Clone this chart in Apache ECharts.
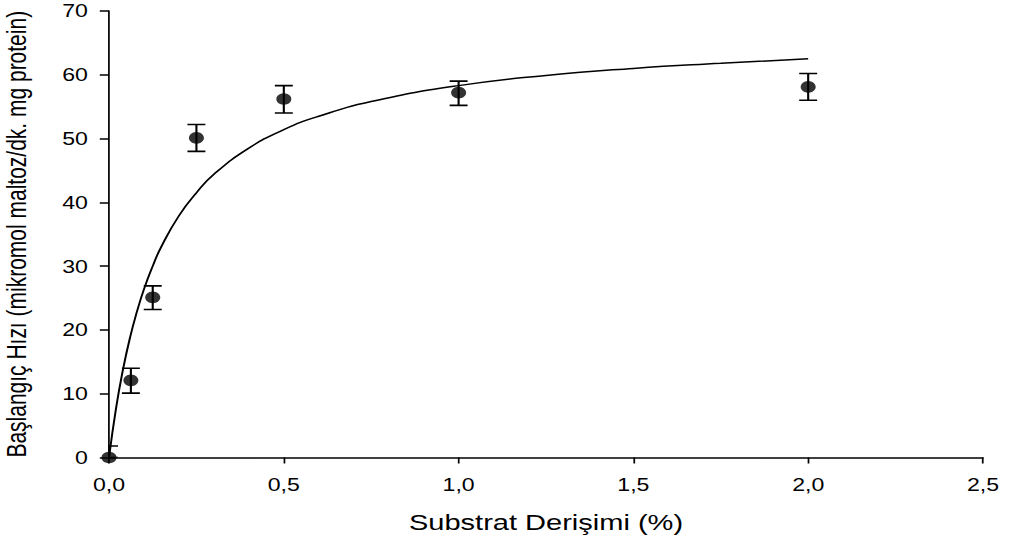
<!DOCTYPE html>
<html>
<head>
<meta charset="utf-8">
<script src="https://cdn.jsdelivr.net/npm/echarts@6/dist/echarts.min.js"></script>
<style>
html,body{margin:0;padding:0;background:#fff;overflow:hidden;width:1012px;height:543px}
#c{width:766.67px;height:543px;transform:scaleX(1.32);transform-origin:0 0}
</style>
</head>
<body>
<div id="c"></div>
<script>
// Measured points (substrate %, initial rate) with error bar ends
const xVals = [0, 0.0625, 0.125, 0.25, 0.5, 1.0, 2.0];
const yVals = [0, 12.1, 25.1, 50.1, 56.2, 57.2, 58.1];
const errLow = [0, 10.1, 23.2, 48.0, 54.0, 55.2, 56.0];
const errHigh = [1.8, 14.0, 26.9, 52.2, 58.3, 59.0, 60.2];
// Fitted curve
const curveX = [0, 0.02, 0.04, 0.06, 0.08, 0.1, 0.125, 0.15, 0.2, 0.25, 0.3, 0.4, 0.5, 0.6, 0.75, 1.0, 1.25, 1.5, 1.75, 2.0];
const curveY = [0, 7.7, 13.8, 18.8, 22.9, 26.4, 30.0, 33.1, 37.9, 41.5, 44.4, 48.5, 51.4, 53.5, 55.8, 58.3, 59.9, 61.0, 61.8, 62.5];
const xTicks = ['0,0', '0,5', '1,0', '1,5', '2,0', '2,5'];

const FONT = 'Arial, "Liberation Sans", sans-serif';
const chart = echarts.init(document.getElementById('c'), null, { renderer: 'svg', width: 766.67, height: 543 });
const pts = xVals.map((x, i) => [x, yVals[i]]);
const errs = xVals.map((x, i) => [x, errLow[i], errHigh[i]]);
const curve = curveX.map((x, i) => [x, curveY[i]]);

chart.setOption({
  animation: false,
  backgroundColor: '#fff',
  grid: { left: 82.6, right: 22, top: 11, bottom: 85.5, outerBoundsMode: 'none', containLabel: false },
  xAxis: {
    type: 'value', min: 0, max: 2.5, interval: 0.5,
    name: 'Substrat Derişimi (%)', nameLocation: 'middle', nameGap: 54,
    nameTextStyle: { fontFamily: FONT, fontSize: 22, color: '#000' },
    axisLine: { lineStyle: { color: '#000', width: 1.5 } },
    axisTick: { show: true, length: 6, lineStyle: { color: '#000', width: 1.3 } },
    axisLabel: { fontFamily: FONT, fontSize: 17.5, color: '#000', margin: 18,
      formatter: (v) => xTicks[Math.round(v / 0.5)] },
    splitLine: { show: false }
  },
  yAxis: {
    type: 'value', min: 0, max: 70, interval: 10,
    name: 'Başlangıç Hızı (mikromol maltoz/dk. mg protein)', nameLocation: 'middle', nameGap: 60,
    nameTextStyle: { fontFamily: FONT, fontSize: 21, color: '#000' },
    axisLine: { show: true, lineStyle: { color: '#000', width: 1.3 } },
    axisTick: { show: true, length: 7, lineStyle: { color: '#000', width: 1.5 } },
    axisLabel: { fontFamily: FONT, fontSize: 17.5, color: '#000', margin: 16 },
    splitLine: { show: false }
  },
  series: [
    {
      type: 'line', data: curve, smooth: true, showSymbol: false, symbol: 'none',
      lineStyle: { color: '#000', width: 1.5 }, z: 2
    },
    {
      type: 'custom', data: errs, z: 3, clip: true,
      renderItem: (params, api) => {
        const x = api.value(0);
        const lo = api.coord([x, api.value(1)]);
        const hi = api.coord([x, api.value(2)]);
        const w = 6.8;
        const st = { stroke: '#000', lineWidth: 1.6 };
        return { type: 'group', children: [
          { type: 'line', shape: { x1: lo[0], y1: lo[1], x2: hi[0], y2: hi[1] }, style: st },
          { type: 'line', shape: { x1: lo[0] - w, y1: lo[1], x2: lo[0] + w, y2: lo[1] }, style: st },
          { type: 'line', shape: { x1: hi[0] - w, y1: hi[1], x2: hi[0] + w, y2: hi[1] }, style: st }
        ]};
      }
    },
    {
      type: 'scatter', data: pts, symbol: 'circle', symbolSize: [11.4, 11.7],
      itemStyle: { color: '#000' }, z: 4, clip: false
    }
  ]
});
</script>
</body>
</html>
